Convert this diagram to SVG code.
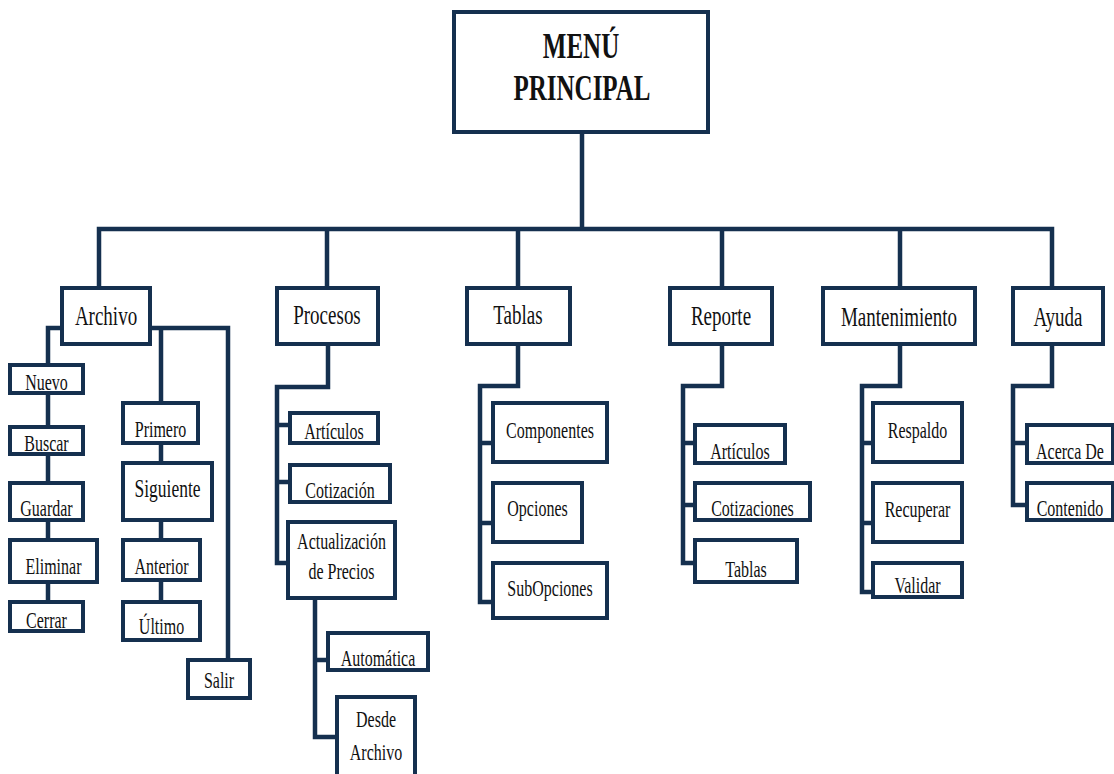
<svg xmlns="http://www.w3.org/2000/svg" width="1114" height="774" viewBox="0 0 1114 774">
<style>
.b{fill:#fff;stroke:#15304f;stroke-width:4}
.c{fill:none;stroke:#15304f;stroke-width:4.5;stroke-linejoin:miter;stroke-linecap:square}
.t{font-family:'Liberation Serif',serif;font-size:16px;fill:#111;text-anchor:middle}
.h{font-size:19px}
.m{font-size:25px;font-weight:bold}
</style>
<rect width="1114" height="774" fill="#fff"/>
<g id="connectors">
<path class="c" d="M582,132 V229 M99,288 V229 H1052 V288 M327,229 V288 M518,229 V288 M722,229 V288 M900,229 V288"/>
<path class="c" d="M62,328 H48 V602 M150,328 H228 V660 M161,328 V602"/>
<path class="c" d="M328,344 V387 H277 V563 H288 M277,425 H290 M277,482 H290"/>
<path class="c" d="M315,598 V737 H337 M315,660 H328"/>
<path class="c" d="M518,344 V386 H480 V602 H493 M480,443 H493 M480,523 H493"/>
<path class="c" d="M722,344 V386 H683 V563 H695 M683,443 H695 M683,505 H695"/>
<path class="c" d="M900,344 V386 H862 V592 H873 M862,443 H873 M862,523 H873"/>
<path class="c" d="M1052,344 V386 H1013 V505 H1027 M1013,443 H1027"/>
</g>
<g id="menu-principal"><rect class="b" x="454" y="12" width="254" height="120" stroke-width="5"/>
<text class="t m" transform="translate(581,58) scale(1,1.45)">MENÚ</text>
<text class="t m" transform="translate(582,100) scale(1,1.45)">PRINCIPAL</text></g>
<g id="archivo"><rect class="b" x="62" y="288" width="88" height="56"/><text class="t h" transform="translate(106,325) scale(1,1.4)">Archivo</text></g>
<g id="procesos"><rect class="b" x="277" y="288" width="101" height="56"/><text class="t h" transform="translate(327,324) scale(1,1.4)">Procesos</text></g>
<g id="tablas"><rect class="b" x="467" y="288" width="103" height="56"/><text class="t h" transform="translate(518,324) scale(1,1.4)">Tablas</text></g>
<g id="reporte"><rect class="b" x="670" y="288" width="102" height="56"/><text class="t h" transform="translate(721,325) scale(1,1.4)">Reporte</text></g>
<g id="mantenimiento"><rect class="b" x="823" y="288" width="152" height="56"/><text class="t h" transform="translate(899,326) scale(1,1.4)">Mantenimiento</text></g>
<g id="ayuda"><rect class="b" x="1013" y="288" width="90" height="56"/><text class="t h" transform="translate(1058,326) scale(1,1.4)">Ayuda</text></g>

<g id="nuevo"><rect class="b" x="10" y="365" width="73" height="28"/><text class="t" transform="translate(46.5,390) scale(1,1.4)">Nuevo</text></g>
<g id="buscar"><rect class="b" x="10" y="427" width="73" height="27"/><text class="t" transform="translate(46.5,451) scale(1,1.4)">Buscar</text></g>
<g id="guardar"><rect class="b" x="10" y="483" width="73" height="37"/><text class="t" transform="translate(46.5,516) scale(1,1.4)">Guardar</text></g>
<g id="eliminar"><rect class="b" x="10" y="540" width="87" height="42"/><text class="t" transform="translate(53.5,574) scale(1,1.4)">Eliminar</text></g>
<g id="cerrar"><rect class="b" x="10" y="602" width="73" height="29"/><text class="t" transform="translate(46.5,628) scale(1,1.4)">Cerrar</text></g>

<g id="primero"><rect class="b" x="123" y="403" width="75" height="40"/><text class="t" transform="translate(160.5,437) scale(1,1.4)">Primero</text></g>
<g id="siguiente"><rect class="b" x="123" y="463" width="89" height="57"/><text class="t" transform="translate(167.5,497) scale(1,1.4)" style="font-size:17.5px">Siguiente</text></g>
<g id="anterior"><rect class="b" x="123" y="540" width="77" height="40"/><text class="t" transform="translate(161.5,574) scale(1,1.4)">Anterior</text></g>
<g id="ultimo"><rect class="b" x="123" y="602" width="77" height="38"/><text class="t" transform="translate(161.5,634) scale(1,1.4)">Último</text></g>
<g id="salir"><rect class="b" x="188" y="660" width="62" height="38"/><text class="t" transform="translate(219,688) scale(1,1.4)">Salir</text></g>

<g id="p-articulos"><rect class="b" x="290" y="413" width="88" height="30"/><text class="t" transform="translate(334,439) scale(1,1.4)">Artículos</text></g>
<g id="p-cotizacion"><rect class="b" x="290" y="465" width="100" height="37"/><text class="t" transform="translate(340,498) scale(1,1.4)">Cotización</text></g>
<g id="actualizacion"><rect class="b" x="288" y="522" width="107" height="76"/><text class="t" transform="translate(341.5,549) scale(1,1.4)">Actualización</text><text class="t" transform="translate(341.5,579) scale(1,1.4)">de Precios</text></g>
<g id="automatica"><rect class="b" x="328" y="633" width="100" height="37"/><text class="t" transform="translate(378,666) scale(1,1.4)">Automática</text></g>
<g id="desde-archivo"><rect class="b" x="337" y="697" width="78" height="84"/><text class="t" transform="translate(376,727) scale(1,1.4)">Desde</text><text class="t" transform="translate(376,760) scale(1,1.4)">Archivo</text></g>

<g id="componentes"><rect class="b" x="493" y="403" width="114" height="59"/><text class="t" transform="translate(550,438) scale(1,1.4)">Componentes</text></g>
<g id="opciones"><rect class="b" x="493" y="483" width="89" height="59"/><text class="t" transform="translate(537.5,516) scale(1,1.4)">Opciones</text></g>
<g id="subopciones"><rect class="b" x="493" y="563" width="114" height="55"/><text class="t" transform="translate(550,596) scale(1,1.4)">SubOpciones</text></g>

<g id="r-articulos"><rect class="b" x="695" y="425" width="90" height="38"/><text class="t" transform="translate(740,459) scale(1,1.4)">Artículos</text></g>
<g id="r-cotizaciones"><rect class="b" x="695" y="483" width="115" height="37"/><text class="t" transform="translate(752.5,516) scale(1,1.4)">Cotizaciones</text></g>
<g id="r-tablas"><rect class="b" x="695" y="540" width="102" height="42"/><text class="t" transform="translate(746,577) scale(1,1.4)">Tablas</text></g>

<g id="respaldo"><rect class="b" x="873" y="403" width="89" height="59"/><text class="t" transform="translate(917.5,438) scale(1,1.4)">Respaldo</text></g>
<g id="recuperar"><rect class="b" x="873" y="483" width="89" height="59"/><text class="t" transform="translate(917.5,517) scale(1,1.4)">Recuperar</text></g>
<g id="validar"><rect class="b" x="873" y="563" width="89" height="34"/><text class="t" transform="translate(917.5,593) scale(1,1.4)">Validar</text></g>

<g id="acerca-de"><rect class="b" x="1027" y="425" width="86" height="38"/><text class="t" transform="translate(1070,459) scale(1,1.4)">Acerca De</text></g>
<g id="contenido"><rect class="b" x="1027" y="483" width="86" height="37"/><text class="t" transform="translate(1070,516) scale(1,1.4)">Contenido</text></g>
</svg>
